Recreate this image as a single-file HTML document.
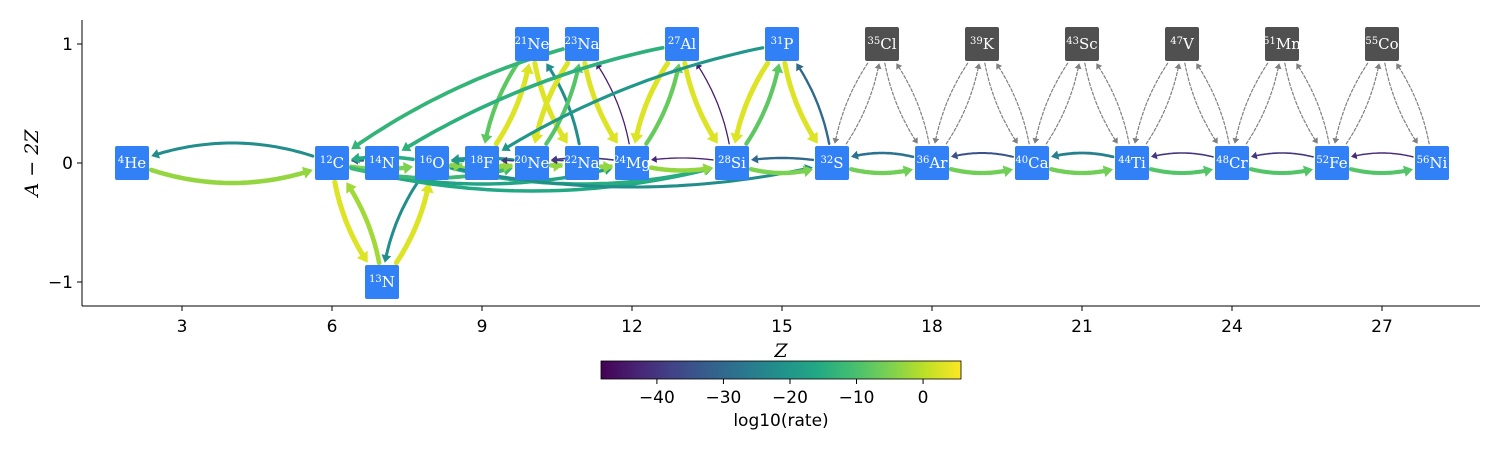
<!DOCTYPE html>
<html><head><meta charset="utf-8"><style>
body{margin:0;background:#fff;}
svg text{font-family:"DejaVu Sans","Liberation Sans",sans-serif;}
.nl{font-family:"DejaVu Serif","Liberation Serif",serif;fill:#fff;font-size:15px;}
</style></head><body>
<svg id="chart" width="1500" height="450" viewBox="0 0 1500 450" xmlns="http://www.w3.org/2000/svg">
<defs><linearGradient id="vir" x1="0" x2="1" y1="0" y2="0">
<stop offset="0" stop-color="#440154"/><stop offset="0.1" stop-color="#482475"/><stop offset="0.2" stop-color="#414487"/><stop offset="0.3" stop-color="#355f8d"/><stop offset="0.4" stop-color="#2a788e"/><stop offset="0.5" stop-color="#21918c"/><stop offset="0.6" stop-color="#22a884"/><stop offset="0.7" stop-color="#44bf70"/><stop offset="0.8" stop-color="#7ad151"/><stop offset="0.9" stop-color="#bddf26"/><stop offset="1" stop-color="#fde725"/></linearGradient></defs>
<g id="edges"></g>
<g id="nodes"></g>
<g id="axes"></g>
<g id="cbar"></g>
</svg>
<script>
const nodeNames=["4|He","12|C","13|N","14|N","16|O","18|F","20|Ne","21|Ne","22|Na","23|Na","24|Mg","27|Al","28|Si","31|P","32|S","35|Cl","36|Ar","39|K","40|Ca","43|Sc","44|Ti","47|V","48|Cr","51|Mn","52|Fe","55|Co","56|Ni"];
const nodeZ=[2,6,7,7,8,9,10,10,11,11,12,13,14,15,16,17,18,19,20,21,22,23,24,25,26,27,28];
const nodeY=[0,0,-1,0,0,0,0,1,0,1,0,1,0,1,0,1,0,1,0,1,0,1,0,1,0,1,0];
const nodeActive=[1,1,1,1,1,1,1,1,1,1,1,1,1,1,1,0,1,0,1,0,1,0,1,0,1,0,1];
const xTicks=[3,6,9,12,15,18,21,24,27];
const yTicks=[1,0,-1];
const yTickLabels=["1","0","\u22121"];
const cbTicks=[-40,-30,-20,-10,0];
const cbTickLabels=["\u221240","\u221230","\u221220","\u221210","0"];
// edges: from, to, log10(rate) (null = no rate, dashed grey), curvature
const edgeFrom=["He","C","C","N13","N13","O","C","N14","O","O","Ne20","C","C","C","O","O","O","F","F","Ne20","Ne20","Na22","Na22","F","Ne21","Ne21","Na22","Na23","Ne20","Na23","Mg","Mg","Al","Al","Si","Si","P","P","S","Al","P","Na23","Mg","Si","Mg","S","Si","S","Ar","Ar","Ca","Ca","Ti","Ti","Cr","Cr","Fe","Fe","Ni"];
const edgeTo=["C","He","N13","C","O","N13","O","C","C","Ne20","O","Mg","Si","Ne20","Si","S","F","O","Ne20","F","Na22","Ne20","Mg","Ne21","F","Na22","Ne21","Ne20","Na23","Mg","Na23","Al","Mg","Si","Al","P","Si","S","P","N14","F","C","Ne20","Mg","Si","Si","S","Ar","S","Ca","Ar","Ti","Ca","Cr","Ti","Fe","Cr","Ni","Fe"];
const edgeRate=[-3,-22,3,-2,3,-22,-5,-30,-15,-3,-20,-17,-16,-12,-15,-22,-4,-20,-3,-40,-3,-40,-3,3,-8,3,-22,3,-9,3,-44,-7,3,3,-44,-8,3,3,-30,-14,-20,-13,-40,-43,-3,-30,-5,-6,-28,-6,-35,-6,-25,-9,-40,-9,-40,-9,-42];
const edgeRad=[0.2,0.2,0.15,0.15,0.15,0.15,0.12,0.1,0.12,0.12,0.1,0.14,0.14,0.15,0.14,0.12,0.1,0.1,0.12,0.1,0.1,0.1,0.15,0.15,0.15,0.15,0.15,0.15,0.15,0.15,0.15,0.15,0.15,0.15,0.15,0.15,0.15,0.15,0.15,0.1,0.1,0.1,0.1,0.1,0.15,0.1,0.2,0.2,0.2,0.2,0.2,0.2,0.2,0.2,0.2,0.2,0.2,0.2,0.2];
const greyTops=["Cl","K","Sc","V","Mn","Co"];
const alphaBase=["S","Ar","Ca","Ti","Cr","Fe","Ni"];

const NS="http://www.w3.org/2000/svg";
const X0=82,X1=1480,Y0=20,Y1=306;
const sx=z=>X0+(z-1.0)/(28.96-1.0)*(X1-X0);
const sy=v=>163-v*119;
const vir=["#440154","#482475","#414487","#355f8d","#2a788e","#21918c","#22a884","#44bf70","#7ad151","#bddf26","#fde725"];
const RMIN=-48.4,RMAX=5.7;
function hex(c){return [1,3,5].map(i=>parseInt(c.substr(i,2),16));}
function color(r){let t=Math.max(0,Math.min(1,(r-RMIN)/(RMAX-RMIN)))*10;let i=Math.min(9,Math.floor(t)),f=t-i;const a=hex(vir[i]),b=hex(vir[i+1]);return "rgb("+a.map((v,k)=>Math.round(v+(b[k]-v)*f)).join(",")+")";}
function el(tag,attrs,parent){const e=document.createElementNS(NS,tag);for(const k in attrs)e.setAttribute(k,attrs[k]);parent.appendChild(e);return e;}
const key={};
nodeNames.forEach((n,i)=>{const [a,s]=n.split("|");let k=s;if(s==="N")k="N"+a;if(s==="Ne")k="Ne"+a;if(s==="Na")k="Na"+a;key[k]=i;});
const gE=document.getElementById("edges"),gN=document.getElementById("nodes"),gA=document.getElementById("axes"),gC=document.getElementById("cbar");
const allFrom=edgeFrom.slice(),allTo=edgeTo.slice(),allRate=edgeRate.slice(),allRad=edgeRad.slice();
greyTops.forEach((g,i)=>{const a=alphaBase[i],b=alphaBase[i+1];[[a,g],[g,a],[g,b],[b,g]].forEach(p=>{allFrom.push(p[0]);allTo.push(p[1]);allRate.push(null);allRad.push(0.15);});});
const H=17;
function inBox(x,y,cx,cy){return Math.abs(x-cx)<H+2&&Math.abs(y-cy)<H+2;}
allFrom.forEach((f,i)=>{
  const a=key[f],b=key[allTo[i]];if(a===undefined||b===undefined)return;
  const x1=sx(nodeZ[a]),y1=sy(nodeY[a]),x2=sx(nodeZ[b]),y2=sy(nodeY[b]);
  const dx=x2-x1,dy=y2-y1,r=allRad[i];
  const cx=(x1+x2)/2-r*dy,cy=(y1+y2)/2+r*dx;
  const P=t=>[(1-t)*(1-t)*x1+2*(1-t)*t*cx+t*t*x2,(1-t)*(1-t)*y1+2*(1-t)*t*cy+t*t*y2];
  let t0=0,t1=1;
  for(let t=0;t<0.5;t+=0.002){const p=P(t);if(!inBox(p[0],p[1],x1,y1)){t0=t;break;}}
  for(let t=1;t>0.5;t-=0.002){const p=P(t);if(!inBox(p[0],p[1],x2,y2)){t1=t;break;}}
  const rate=allRate[i];
  const col=rate===null?"#808080":color(rate);
  const w=rate===null?1.2:1.2+Math.max(0,(rate+45))/50*4;
  const pts=[];for(let k=0;k<=40;k++){const p=P(t0+(t1-t0)*k/40);pts.push(p[0].toFixed(1)+","+p[1].toFixed(1));}
  const pe=P(t1),pb=P(t1-0.03);let ux=pe[0]-pb[0],uy=pe[1]-pb[1];const L=Math.hypot(ux,uy)||1;ux/=L;uy/=L;
  const hl=4+w*1.2,hw=2.5+w*0.8;
  const base=[pe[0]-ux*hl,pe[1]-uy*hl];
  const pl=el("polyline",{points:pts.slice(0,-2).concat([base[0].toFixed(1)+","+base[1].toFixed(1)]).join(" "),fill:"none",stroke:col,"stroke-width":w.toFixed(2),"stroke-dasharray":rate===null?"3,2":"none","stroke-linecap":"round"},gE);
  
  
  const ah=el("polygon",{points:[pe[0],pe[1],base[0]-uy*hw,base[1]+ux*hw,base[0]+uy*hw,base[1]-ux*hw].map(v=>v.toFixed(1)).join(","),fill:col},gE);
  
  
});
nodeNames.forEach((n,i)=>{
  const [a,s]=n.split("|");const x=sx(nodeZ[i]),y=sy(nodeY[i]);
  const g=el("g",{},gN);
  
  
  el("rect",{x:x-H,y:y-H,width:2*H,height:2*H,rx:2,fill:nodeActive[i]?"#3280f6":"#505050"},g);
  const t=el("text",{x:x,y:y+5,"text-anchor":"middle",class:"nl"},g);
  const ts=el("tspan",{"font-size":"10","dy":"-5"},t);ts.textContent=a;
  const tm=el("tspan",{"dy":"5"},t);tm.textContent=s;
});
el("line",{x1:X0,y1:Y0,x2:X0,y2:Y1,stroke:"#000","stroke-width":1},gA);
el("line",{x1:X0,y1:Y1,x2:X1,y2:Y1,stroke:"#000","stroke-width":1},gA);
xTicks.forEach(v=>{const x=sx(v);el("line",{x1:x,y1:Y1,x2:x,y2:Y1+5,stroke:"#000"},gA);const t=el("text",{x:x,y:Y1+26,"text-anchor":"middle","font-size":"17"},gA);t.textContent=v;});
yTicks.forEach((v,i)=>{const y=sy(v);el("line",{x1:X0-5,y1:y,x2:X0,y2:y,stroke:"#000"},gA);const t=el("text",{x:X0-9,y:y+6,"text-anchor":"end","font-size":"17"},gA);t.textContent=yTickLabels[i];});
const yl=el("text",{x:0,y:0,"text-anchor":"middle","font-size":"19","font-style":"italic",transform:"translate(38,163) rotate(-90)",style:"font-family:'DejaVu Serif','Liberation Serif',serif"},gA);yl.textContent="A \u2212 2Z";
const xl=el("text",{x:781,y:357,"text-anchor":"middle","font-size":"19","font-style":"italic",style:"font-family:'DejaVu Serif','Liberation Serif',serif"},gA);xl.textContent="Z";
const CB0=601,CB1=961;const cx=r=>CB0+(r-RMIN)/(RMAX-RMIN)*(CB1-CB0);
el("rect",{x:CB0,y:361,width:CB1-CB0,height:18,fill:"url(#vir)",stroke:"#000","stroke-width":0.8},gC);
cbTicks.forEach((v,i)=>{const x=cx(v);el("line",{x1:x,y1:379,x2:x,y2:384,stroke:"#000"},gC);const t=el("text",{x:x,y:403,"text-anchor":"middle","font-size":"17"},gC);t.textContent=cbTickLabels[i];});
const cl=el("text",{x:781,y:426,"text-anchor":"middle","font-size":"17"},gC);cl.textContent="log10(rate)";
</script>
</body></html>
